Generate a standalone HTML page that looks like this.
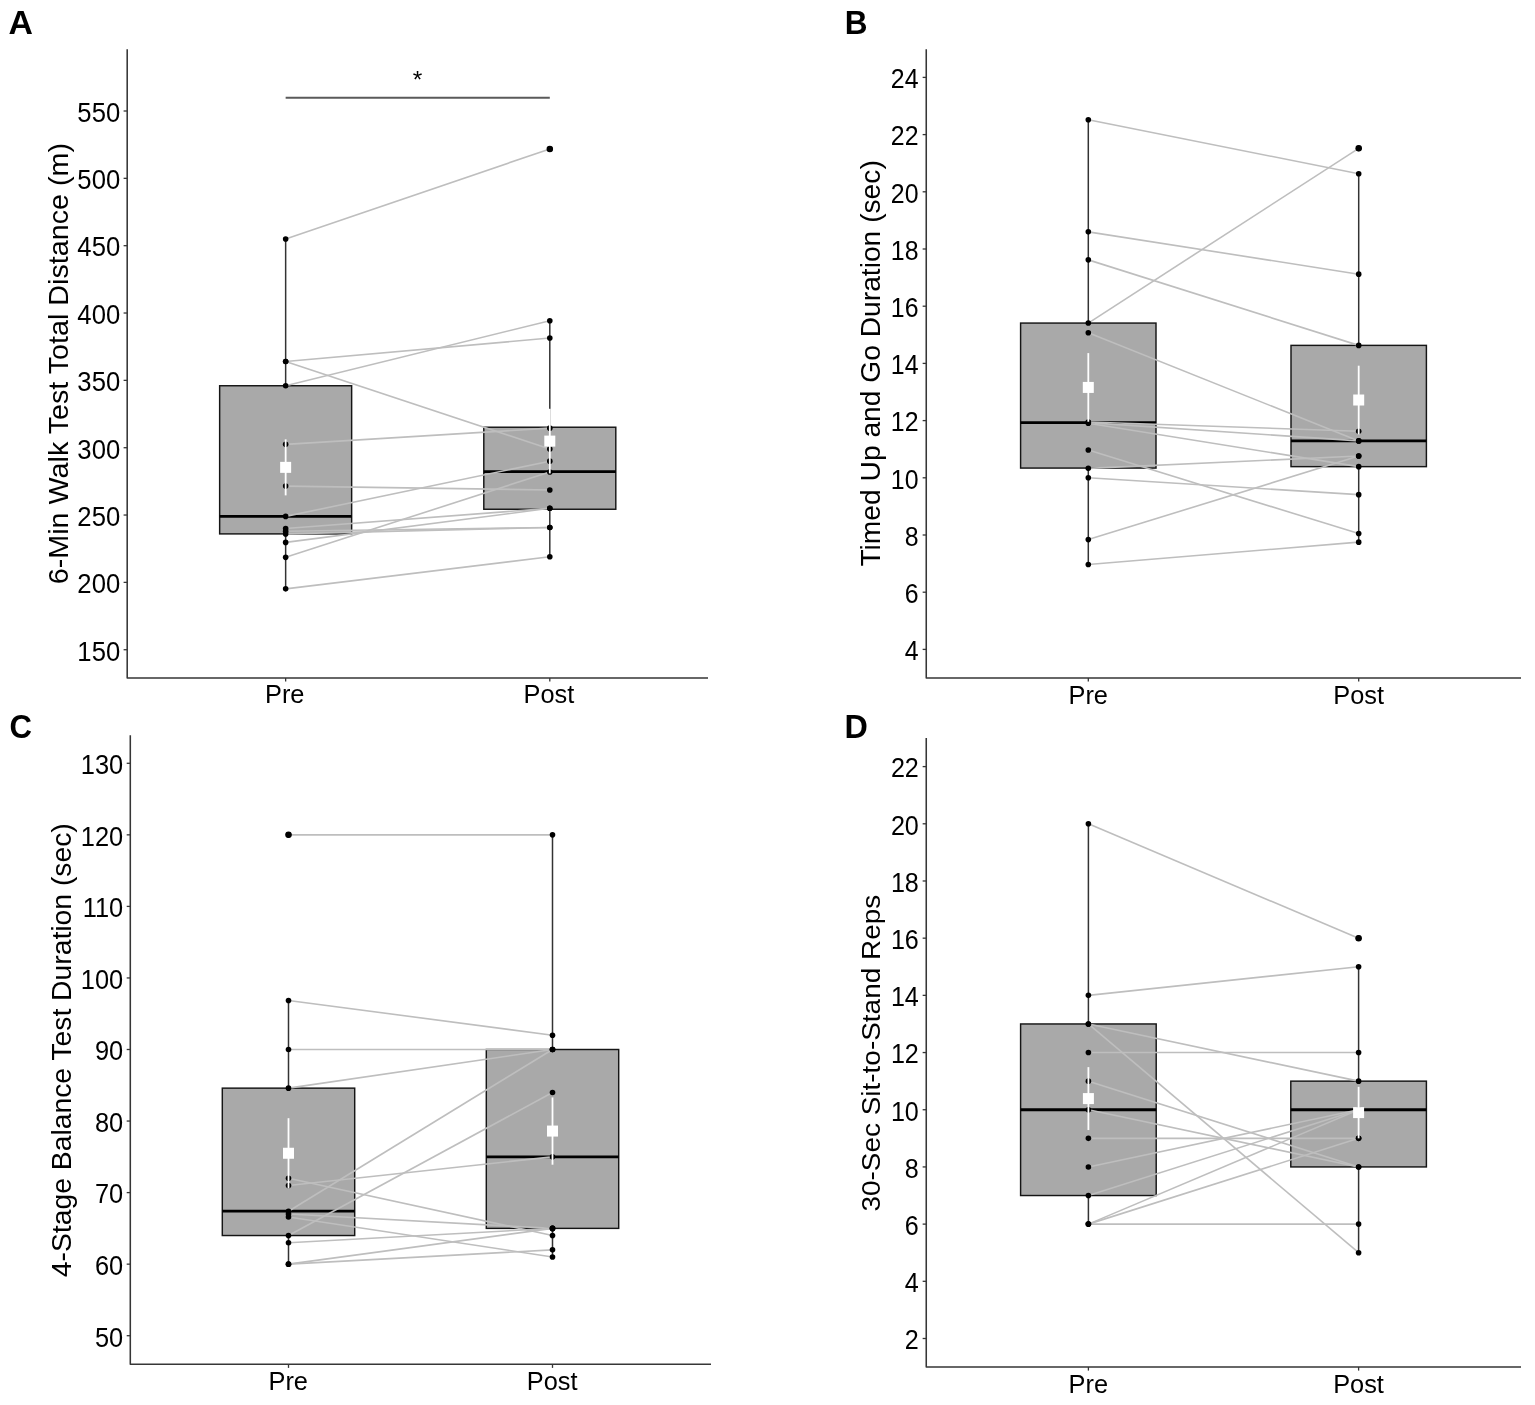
<!DOCTYPE html>
<html lang="en"><head><meta charset="utf-8"><title>Figure: Pre vs Post physical function outcomes</title>
<style>html,body{margin:0;padding:0;background:#fff;overflow:hidden}svg{display:block}text{font-family:"Liberation Sans", sans-serif;fill:#000}</style></head><body>
<svg width="1535" height="1405" viewBox="0 0 1535 1405" role="img" aria-label="Box plots of pre versus post outcomes, panels A to D">
<rect width="1535" height="1405" fill="#ffffff"/>
<g id="panel-A">
<text transform="translate(8.5 34) scale(1.01 1)" font-size="33.5" font-weight="700">A</text>
<line x1="285.65" x2="285.65" y1="238.95" y2="385.75" stroke="#333" stroke-width="1.5"/>
<line x1="285.65" x2="285.65" y1="533.9" y2="588.84" stroke="#333" stroke-width="1.5"/>
<rect x="219.65" y="385.75" width="132" height="148.15" fill="#a9a9a9" stroke="#151515" stroke-width="1.45"/>
<line x1="219.65" x2="351.65" y1="516.39" y2="516.39" stroke="#000" stroke-width="2.8"/>
<line x1="549.8" x2="549.8" y1="320.7" y2="427.23" stroke="#333" stroke-width="1.5"/>
<line x1="549.8" x2="549.8" y1="509.25" y2="556.79" stroke="#333" stroke-width="1.5"/>
<rect x="483.8" y="427.23" width="132" height="82.02" fill="#a9a9a9" stroke="#151515" stroke-width="1.45"/>
<line x1="483.8" x2="615.8" y1="471.54" y2="471.54" stroke="#000" stroke-width="2.8"/>
<line x1="285.65" y1="238.95" x2="549.8" y2="148.98" stroke="#bebebe" stroke-width="1.6"/>
<line x1="285.65" y1="361.5" x2="549.8" y2="338.07" stroke="#bebebe" stroke-width="1.6"/>
<line x1="285.65" y1="361.5" x2="549.8" y2="449.05" stroke="#bebebe" stroke-width="1.6"/>
<line x1="285.65" y1="385.75" x2="549.8" y2="320.7" stroke="#bebebe" stroke-width="1.6"/>
<line x1="285.65" y1="444.33" x2="549.8" y2="428.17" stroke="#bebebe" stroke-width="1.6"/>
<line x1="285.65" y1="486.08" x2="549.8" y2="489.99" stroke="#bebebe" stroke-width="1.6"/>
<line x1="285.65" y1="516.39" x2="549.8" y2="461.17" stroke="#bebebe" stroke-width="1.6"/>
<line x1="285.65" y1="528.51" x2="549.8" y2="508.31" stroke="#bebebe" stroke-width="1.6"/>
<line x1="285.65" y1="531.2" x2="549.8" y2="527.43" stroke="#bebebe" stroke-width="1.6"/>
<line x1="285.65" y1="533.9" x2="549.8" y2="527.43" stroke="#bebebe" stroke-width="1.6"/>
<line x1="285.65" y1="542.38" x2="549.8" y2="508.31" stroke="#bebebe" stroke-width="1.6"/>
<line x1="285.65" y1="557.33" x2="549.8" y2="471.94" stroke="#bebebe" stroke-width="1.6"/>
<line x1="285.65" y1="588.84" x2="549.8" y2="556.79" stroke="#bebebe" stroke-width="1.6"/>
<circle cx="285.65" cy="238.95" r="2.8" fill="#000"/>
<circle cx="549.8" cy="148.98" r="2.8" fill="#000"/>
<circle cx="285.65" cy="361.5" r="2.8" fill="#000"/>
<circle cx="549.8" cy="338.07" r="2.8" fill="#000"/>
<circle cx="285.65" cy="361.5" r="2.8" fill="#000"/>
<circle cx="549.8" cy="449.05" r="2.8" fill="#000"/>
<circle cx="285.65" cy="385.75" r="2.8" fill="#000"/>
<circle cx="549.8" cy="320.7" r="2.8" fill="#000"/>
<circle cx="285.65" cy="444.33" r="2.8" fill="#000"/>
<circle cx="549.8" cy="428.17" r="2.8" fill="#000"/>
<circle cx="285.65" cy="486.08" r="2.8" fill="#000"/>
<circle cx="549.8" cy="489.99" r="2.8" fill="#000"/>
<circle cx="285.65" cy="516.39" r="2.8" fill="#000"/>
<circle cx="549.8" cy="461.17" r="2.8" fill="#000"/>
<circle cx="285.65" cy="528.51" r="2.8" fill="#000"/>
<circle cx="549.8" cy="508.31" r="2.8" fill="#000"/>
<circle cx="285.65" cy="531.2" r="2.8" fill="#000"/>
<circle cx="549.8" cy="527.43" r="2.8" fill="#000"/>
<circle cx="285.65" cy="533.9" r="2.8" fill="#000"/>
<circle cx="549.8" cy="527.43" r="2.8" fill="#000"/>
<circle cx="285.65" cy="542.38" r="2.8" fill="#000"/>
<circle cx="549.8" cy="508.31" r="2.8" fill="#000"/>
<circle cx="285.65" cy="557.33" r="2.8" fill="#000"/>
<circle cx="549.8" cy="471.94" r="2.8" fill="#000"/>
<circle cx="285.65" cy="588.84" r="2.8" fill="#000"/>
<circle cx="549.8" cy="556.79" r="2.8" fill="#000"/>
<circle cx="549.8" cy="148.98" r="3.25" fill="#000"/>
<line x1="285.65" x2="285.65" y1="439.35" y2="495.38" stroke="#fff" stroke-width="1.8"/>
<rect x="280.15" y="461.86" width="11" height="11" fill="#fff"/>
<line x1="549.8" x2="549.8" y1="408.78" y2="473.42" stroke="#fff" stroke-width="1.8"/>
<rect x="544.3" y="435.6" width="11" height="11" fill="#fff"/>
<line x1="285.65" x2="549.8" y1="97.85" y2="97.85" stroke="#5a5a5a" stroke-width="2"/>
<text x="417.42" y="87.8" font-size="24.5" text-anchor="middle">*</text>
<path d="M127.2 49.3V678H708" fill="none" stroke="#363636" stroke-width="1.55" stroke-linejoin="round"/>
<line x1="123.6" x2="127.2" y1="649.72" y2="649.72" stroke="#363636" stroke-width="1.3"/>
<text transform="translate(120.2 660.52) scale(0.995 1.04)" font-size="25.8" text-anchor="end">150</text>
<line x1="123.6" x2="127.2" y1="582.38" y2="582.38" stroke="#363636" stroke-width="1.3"/>
<text transform="translate(120.2 593.18) scale(0.995 1.04)" font-size="25.8" text-anchor="end">200</text>
<line x1="123.6" x2="127.2" y1="515.04" y2="515.04" stroke="#363636" stroke-width="1.3"/>
<text transform="translate(120.2 525.84) scale(0.995 1.04)" font-size="25.8" text-anchor="end">250</text>
<line x1="123.6" x2="127.2" y1="447.7" y2="447.7" stroke="#363636" stroke-width="1.3"/>
<text transform="translate(120.2 458.5) scale(0.995 1.04)" font-size="25.8" text-anchor="end">300</text>
<line x1="123.6" x2="127.2" y1="380.36" y2="380.36" stroke="#363636" stroke-width="1.3"/>
<text transform="translate(120.2 391.16) scale(0.995 1.04)" font-size="25.8" text-anchor="end">350</text>
<line x1="123.6" x2="127.2" y1="313.02" y2="313.02" stroke="#363636" stroke-width="1.3"/>
<text transform="translate(120.2 323.82) scale(0.995 1.04)" font-size="25.8" text-anchor="end">400</text>
<line x1="123.6" x2="127.2" y1="245.68" y2="245.68" stroke="#363636" stroke-width="1.3"/>
<text transform="translate(120.2 256.48) scale(0.995 1.04)" font-size="25.8" text-anchor="end">450</text>
<line x1="123.6" x2="127.2" y1="178.34" y2="178.34" stroke="#363636" stroke-width="1.3"/>
<text transform="translate(120.2 189.14) scale(0.995 1.04)" font-size="25.8" text-anchor="end">500</text>
<line x1="123.6" x2="127.2" y1="111" y2="111" stroke="#363636" stroke-width="1.3"/>
<text transform="translate(120.2 121.8) scale(0.995 1.04)" font-size="25.8" text-anchor="end">550</text>
<line x1="285.65" x2="285.65" y1="678" y2="681.6" stroke="#363636" stroke-width="1.3"/>
<text transform="translate(284.75 703.4) scale(0.99 1.02)" font-size="25.6" text-anchor="middle">Pre</text>
<line x1="549.8" x2="549.8" y1="678" y2="681.6" stroke="#363636" stroke-width="1.3"/>
<text transform="translate(548.9 703.4) scale(0.99 1.02)" font-size="25.6" text-anchor="middle">Post</text>
<text transform="translate(68.3 363.6) rotate(-90) scale(1 0.95)" font-size="28.7" text-anchor="middle">6-Min Walk Test Total Distance (m)</text>
</g>
<g id="panel-B">
<text transform="translate(844.7 34.2) scale(0.94 1)" font-size="33.5" font-weight="700">B</text>
<line x1="1088.3" x2="1088.3" y1="119.73" y2="323.07" stroke="#333" stroke-width="1.5"/>
<line x1="1088.3" x2="1088.3" y1="468.08" y2="564.46" stroke="#333" stroke-width="1.5"/>
<rect x="1020.6" y="323.07" width="135.4" height="145" fill="#a9a9a9" stroke="#151515" stroke-width="1.45"/>
<line x1="1020.6" x2="1156" y1="422.6" y2="422.6" stroke="#000" stroke-width="2.8"/>
<line x1="1358.7" x2="1358.7" y1="173.78" y2="345.38" stroke="#333" stroke-width="1.5"/>
<line x1="1358.7" x2="1358.7" y1="466.65" y2="542.15" stroke="#333" stroke-width="1.5"/>
<rect x="1291" y="345.38" width="135.4" height="121.26" fill="#a9a9a9" stroke="#151515" stroke-width="1.45"/>
<line x1="1291" x2="1426.4" y1="440.91" y2="440.91" stroke="#000" stroke-width="2.8"/>
<line x1="1088.3" y1="119.73" x2="1358.7" y2="173.78" stroke="#bebebe" stroke-width="1.6"/>
<line x1="1088.3" y1="231.84" x2="1358.7" y2="274.17" stroke="#bebebe" stroke-width="1.6"/>
<line x1="1088.3" y1="259.87" x2="1358.7" y2="345.38" stroke="#bebebe" stroke-width="1.6"/>
<line x1="1088.3" y1="323.07" x2="1358.7" y2="148.33" stroke="#bebebe" stroke-width="1.6"/>
<line x1="1088.3" y1="332.8" x2="1358.7" y2="440.91" stroke="#bebebe" stroke-width="1.6"/>
<line x1="1088.3" y1="422.03" x2="1358.7" y2="431.18" stroke="#bebebe" stroke-width="1.6"/>
<line x1="1088.3" y1="422.6" x2="1358.7" y2="440.91" stroke="#bebebe" stroke-width="1.6"/>
<line x1="1088.3" y1="423.17" x2="1358.7" y2="466.65" stroke="#bebebe" stroke-width="1.6"/>
<line x1="1088.3" y1="450.06" x2="1358.7" y2="533.57" stroke="#bebebe" stroke-width="1.6"/>
<line x1="1088.3" y1="468.36" x2="1358.7" y2="456.06" stroke="#bebebe" stroke-width="1.6"/>
<line x1="1088.3" y1="477.8" x2="1358.7" y2="494.67" stroke="#bebebe" stroke-width="1.6"/>
<line x1="1088.3" y1="539.58" x2="1358.7" y2="456.06" stroke="#bebebe" stroke-width="1.6"/>
<line x1="1088.3" y1="564.46" x2="1358.7" y2="542.15" stroke="#bebebe" stroke-width="1.6"/>
<circle cx="1088.3" cy="119.73" r="2.8" fill="#000"/>
<circle cx="1358.7" cy="173.78" r="2.8" fill="#000"/>
<circle cx="1088.3" cy="231.84" r="2.8" fill="#000"/>
<circle cx="1358.7" cy="274.17" r="2.8" fill="#000"/>
<circle cx="1088.3" cy="259.87" r="2.8" fill="#000"/>
<circle cx="1358.7" cy="345.38" r="2.8" fill="#000"/>
<circle cx="1088.3" cy="323.07" r="2.8" fill="#000"/>
<circle cx="1358.7" cy="148.33" r="2.8" fill="#000"/>
<circle cx="1088.3" cy="332.8" r="2.8" fill="#000"/>
<circle cx="1358.7" cy="440.91" r="2.8" fill="#000"/>
<circle cx="1088.3" cy="422.03" r="2.8" fill="#000"/>
<circle cx="1358.7" cy="431.18" r="2.8" fill="#000"/>
<circle cx="1088.3" cy="422.6" r="2.8" fill="#000"/>
<circle cx="1358.7" cy="440.91" r="2.8" fill="#000"/>
<circle cx="1088.3" cy="423.17" r="2.8" fill="#000"/>
<circle cx="1358.7" cy="466.65" r="2.8" fill="#000"/>
<circle cx="1088.3" cy="450.06" r="2.8" fill="#000"/>
<circle cx="1358.7" cy="533.57" r="2.8" fill="#000"/>
<circle cx="1088.3" cy="468.36" r="2.8" fill="#000"/>
<circle cx="1358.7" cy="456.06" r="2.8" fill="#000"/>
<circle cx="1088.3" cy="477.8" r="2.8" fill="#000"/>
<circle cx="1358.7" cy="494.67" r="2.8" fill="#000"/>
<circle cx="1088.3" cy="539.58" r="2.8" fill="#000"/>
<circle cx="1358.7" cy="456.06" r="2.8" fill="#000"/>
<circle cx="1088.3" cy="564.46" r="2.8" fill="#000"/>
<circle cx="1358.7" cy="542.15" r="2.8" fill="#000"/>
<circle cx="1358.7" cy="148.33" r="3.25" fill="#000"/>
<line x1="1088.3" x2="1088.3" y1="353.1" y2="421.74" stroke="#fff" stroke-width="1.8"/>
<rect x="1082.8" y="381.92" width="11" height="11" fill="#fff"/>
<line x1="1358.7" x2="1358.7" y1="365.69" y2="434.33" stroke="#fff" stroke-width="1.8"/>
<rect x="1353.2" y="394.51" width="11" height="11" fill="#fff"/>
<path d="M926.25 49.3V678H1521" fill="none" stroke="#363636" stroke-width="1.55" stroke-linejoin="round"/>
<line x1="922.65" x2="926.25" y1="649.4" y2="649.4" stroke="#363636" stroke-width="1.3"/>
<text transform="translate(918.55 660.2) scale(0.965 1.04)" font-size="25.8" text-anchor="end">4</text>
<line x1="922.65" x2="926.25" y1="592.2" y2="592.2" stroke="#363636" stroke-width="1.3"/>
<text transform="translate(918.55 603) scale(0.965 1.04)" font-size="25.8" text-anchor="end">6</text>
<line x1="922.65" x2="926.25" y1="535" y2="535" stroke="#363636" stroke-width="1.3"/>
<text transform="translate(918.55 545.8) scale(0.965 1.04)" font-size="25.8" text-anchor="end">8</text>
<line x1="922.65" x2="926.25" y1="477.8" y2="477.8" stroke="#363636" stroke-width="1.3"/>
<text transform="translate(918.55 488.6) scale(0.965 1.04)" font-size="25.8" text-anchor="end">10</text>
<line x1="922.65" x2="926.25" y1="420.6" y2="420.6" stroke="#363636" stroke-width="1.3"/>
<text transform="translate(918.55 431.4) scale(0.965 1.04)" font-size="25.8" text-anchor="end">12</text>
<line x1="922.65" x2="926.25" y1="363.4" y2="363.4" stroke="#363636" stroke-width="1.3"/>
<text transform="translate(918.55 374.2) scale(0.965 1.04)" font-size="25.8" text-anchor="end">14</text>
<line x1="922.65" x2="926.25" y1="306.2" y2="306.2" stroke="#363636" stroke-width="1.3"/>
<text transform="translate(918.55 317) scale(0.965 1.04)" font-size="25.8" text-anchor="end">16</text>
<line x1="922.65" x2="926.25" y1="249" y2="249" stroke="#363636" stroke-width="1.3"/>
<text transform="translate(918.55 259.8) scale(0.965 1.04)" font-size="25.8" text-anchor="end">18</text>
<line x1="922.65" x2="926.25" y1="191.8" y2="191.8" stroke="#363636" stroke-width="1.3"/>
<text transform="translate(918.55 202.6) scale(0.965 1.04)" font-size="25.8" text-anchor="end">20</text>
<line x1="922.65" x2="926.25" y1="134.6" y2="134.6" stroke="#363636" stroke-width="1.3"/>
<text transform="translate(918.55 145.4) scale(0.965 1.04)" font-size="25.8" text-anchor="end">22</text>
<line x1="922.65" x2="926.25" y1="77.4" y2="77.4" stroke="#363636" stroke-width="1.3"/>
<text transform="translate(918.55 88.2) scale(0.965 1.04)" font-size="25.8" text-anchor="end">24</text>
<line x1="1088.3" x2="1088.3" y1="678" y2="681.6" stroke="#363636" stroke-width="1.3"/>
<text transform="translate(1088.2 704.1) scale(0.99 1.02)" font-size="25.6" text-anchor="middle">Pre</text>
<line x1="1358.7" x2="1358.7" y1="678" y2="681.6" stroke="#363636" stroke-width="1.3"/>
<text transform="translate(1358.6 704.1) scale(0.99 1.02)" font-size="25.6" text-anchor="middle">Post</text>
<text transform="translate(879.9 363.4) rotate(-90) scale(1 0.95)" font-size="28.2" text-anchor="middle">Timed Up and Go Duration (sec)</text>
</g>
<g id="panel-C">
<text transform="translate(9.5 738) scale(0.93 1)" font-size="33.5" font-weight="700">C</text>
<line x1="288.5" x2="288.5" y1="1000.49" y2="1088.14" stroke="#333" stroke-width="1.5"/>
<line x1="288.5" x2="288.5" y1="1235.53" y2="1264.15" stroke="#333" stroke-width="1.5"/>
<rect x="222.3" y="1088.14" width="132.4" height="147.39" fill="#a9a9a9" stroke="#151515" stroke-width="1.45"/>
<line x1="222.3" x2="354.7" y1="1211.2" y2="1211.2" stroke="#000" stroke-width="2.8"/>
<line x1="552.5" x2="552.5" y1="834.85" y2="1049.5" stroke="#333" stroke-width="1.5"/>
<line x1="552.5" x2="552.5" y1="1228.38" y2="1256.99" stroke="#333" stroke-width="1.5"/>
<rect x="486.3" y="1049.5" width="132.4" height="178.88" fill="#a9a9a9" stroke="#151515" stroke-width="1.45"/>
<line x1="486.3" x2="618.7" y1="1156.83" y2="1156.83" stroke="#000" stroke-width="2.8"/>
<line x1="288.5" y1="834.85" x2="552.5" y2="834.85" stroke="#bebebe" stroke-width="1.6"/>
<line x1="288.5" y1="1000.49" x2="552.5" y2="1035.19" stroke="#bebebe" stroke-width="1.6"/>
<line x1="288.5" y1="1049.5" x2="552.5" y2="1049.5" stroke="#bebebe" stroke-width="1.6"/>
<line x1="288.5" y1="1088.14" x2="552.5" y2="1049.5" stroke="#bebebe" stroke-width="1.6"/>
<line x1="288.5" y1="1178.29" x2="552.5" y2="1235.53" stroke="#bebebe" stroke-width="1.6"/>
<line x1="288.5" y1="1185.44" x2="552.5" y2="1156.83" stroke="#bebebe" stroke-width="1.6"/>
<line x1="288.5" y1="1211.2" x2="552.5" y2="1049.5" stroke="#bebebe" stroke-width="1.6"/>
<line x1="288.5" y1="1214.07" x2="552.5" y2="1228.38" stroke="#bebebe" stroke-width="1.6"/>
<line x1="288.5" y1="1216.93" x2="552.5" y2="1256.99" stroke="#bebebe" stroke-width="1.6"/>
<line x1="288.5" y1="1235.53" x2="552.5" y2="1092.43" stroke="#bebebe" stroke-width="1.6"/>
<line x1="288.5" y1="1242.68" x2="552.5" y2="1228.38" stroke="#bebebe" stroke-width="1.6"/>
<line x1="288.5" y1="1264.15" x2="552.5" y2="1228.38" stroke="#bebebe" stroke-width="1.6"/>
<line x1="288.5" y1="1264.15" x2="552.5" y2="1249.84" stroke="#bebebe" stroke-width="1.6"/>
<circle cx="288.5" cy="834.85" r="2.8" fill="#000"/>
<circle cx="552.5" cy="834.85" r="2.8" fill="#000"/>
<circle cx="288.5" cy="1000.49" r="2.8" fill="#000"/>
<circle cx="552.5" cy="1035.19" r="2.8" fill="#000"/>
<circle cx="288.5" cy="1049.5" r="2.8" fill="#000"/>
<circle cx="552.5" cy="1049.5" r="2.8" fill="#000"/>
<circle cx="288.5" cy="1088.14" r="2.8" fill="#000"/>
<circle cx="552.5" cy="1049.5" r="2.8" fill="#000"/>
<circle cx="288.5" cy="1178.29" r="2.8" fill="#000"/>
<circle cx="552.5" cy="1235.53" r="2.8" fill="#000"/>
<circle cx="288.5" cy="1185.44" r="2.8" fill="#000"/>
<circle cx="552.5" cy="1156.83" r="2.8" fill="#000"/>
<circle cx="288.5" cy="1211.2" r="2.8" fill="#000"/>
<circle cx="552.5" cy="1049.5" r="2.8" fill="#000"/>
<circle cx="288.5" cy="1214.07" r="2.8" fill="#000"/>
<circle cx="552.5" cy="1228.38" r="2.8" fill="#000"/>
<circle cx="288.5" cy="1216.93" r="2.8" fill="#000"/>
<circle cx="552.5" cy="1256.99" r="2.8" fill="#000"/>
<circle cx="288.5" cy="1235.53" r="2.8" fill="#000"/>
<circle cx="552.5" cy="1092.43" r="2.8" fill="#000"/>
<circle cx="288.5" cy="1242.68" r="2.8" fill="#000"/>
<circle cx="552.5" cy="1228.38" r="2.8" fill="#000"/>
<circle cx="288.5" cy="1264.15" r="2.8" fill="#000"/>
<circle cx="552.5" cy="1228.38" r="2.8" fill="#000"/>
<circle cx="288.5" cy="1264.15" r="2.8" fill="#000"/>
<circle cx="552.5" cy="1249.84" r="2.8" fill="#000"/>
<circle cx="288.5" cy="834.85" r="3.25" fill="#000"/>
<line x1="288.5" x2="288.5" y1="1118.19" y2="1188.31" stroke="#fff" stroke-width="1.8"/>
<rect x="283" y="1147.75" width="11" height="11" fill="#fff"/>
<line x1="552.5" x2="552.5" y1="1097.44" y2="1164.7" stroke="#fff" stroke-width="1.8"/>
<rect x="547" y="1125.57" width="11" height="11" fill="#fff"/>
<path d="M130.3 735.2V1364.3H711" fill="none" stroke="#363636" stroke-width="1.55" stroke-linejoin="round"/>
<line x1="126.7" x2="130.3" y1="1335.7" y2="1335.7" stroke="#363636" stroke-width="1.3"/>
<text transform="translate(123.2 1346.5) scale(0.985 1.04)" font-size="25.8" text-anchor="end">50</text>
<line x1="126.7" x2="130.3" y1="1264.15" y2="1264.15" stroke="#363636" stroke-width="1.3"/>
<text transform="translate(123.2 1274.95) scale(0.985 1.04)" font-size="25.8" text-anchor="end">60</text>
<line x1="126.7" x2="130.3" y1="1192.6" y2="1192.6" stroke="#363636" stroke-width="1.3"/>
<text transform="translate(123.2 1203.4) scale(0.985 1.04)" font-size="25.8" text-anchor="end">70</text>
<line x1="126.7" x2="130.3" y1="1121.05" y2="1121.05" stroke="#363636" stroke-width="1.3"/>
<text transform="translate(123.2 1131.85) scale(0.985 1.04)" font-size="25.8" text-anchor="end">80</text>
<line x1="126.7" x2="130.3" y1="1049.5" y2="1049.5" stroke="#363636" stroke-width="1.3"/>
<text transform="translate(123.2 1060.3) scale(0.985 1.04)" font-size="25.8" text-anchor="end">90</text>
<line x1="126.7" x2="130.3" y1="977.95" y2="977.95" stroke="#363636" stroke-width="1.3"/>
<text transform="translate(123.2 988.75) scale(0.985 1.04)" font-size="25.8" text-anchor="end">100</text>
<line x1="126.7" x2="130.3" y1="906.4" y2="906.4" stroke="#363636" stroke-width="1.3"/>
<text transform="translate(123.2 917.2) scale(0.985 1.04)" font-size="25.8" text-anchor="end">110</text>
<line x1="126.7" x2="130.3" y1="834.85" y2="834.85" stroke="#363636" stroke-width="1.3"/>
<text transform="translate(123.2 845.65) scale(0.985 1.04)" font-size="25.8" text-anchor="end">120</text>
<line x1="126.7" x2="130.3" y1="763.3" y2="763.3" stroke="#363636" stroke-width="1.3"/>
<text transform="translate(123.2 774.1) scale(0.985 1.04)" font-size="25.8" text-anchor="end">130</text>
<line x1="288.5" x2="288.5" y1="1364.3" y2="1367.9" stroke="#363636" stroke-width="1.3"/>
<text transform="translate(288.2 1389.9) scale(0.99 1.02)" font-size="25.6" text-anchor="middle">Pre</text>
<line x1="552.5" x2="552.5" y1="1364.3" y2="1367.9" stroke="#363636" stroke-width="1.3"/>
<text transform="translate(552.2 1389.9) scale(0.99 1.02)" font-size="25.6" text-anchor="middle">Post</text>
<text transform="translate(70.7 1050.2) rotate(-90) scale(1 0.95)" font-size="28.3" text-anchor="middle">4-Stage Balance Test Duration (sec)</text>
</g>
<g id="panel-D">
<text transform="translate(844.6 737.9) scale(0.965 1)" font-size="33.5" font-weight="700">D</text>
<line x1="1088.4" x2="1088.4" y1="823.79" y2="1023.96" stroke="#333" stroke-width="1.5"/>
<line x1="1088.4" x2="1088.4" y1="1195.53" y2="1224.12" stroke="#333" stroke-width="1.5"/>
<rect x="1020.6" y="1023.96" width="135.6" height="171.57" fill="#a9a9a9" stroke="#151515" stroke-width="1.45"/>
<line x1="1020.6" x2="1156.2" y1="1109.74" y2="1109.74" stroke="#000" stroke-width="2.8"/>
<line x1="1358.6" x2="1358.6" y1="966.76" y2="1081.14" stroke="#333" stroke-width="1.5"/>
<line x1="1358.6" x2="1358.6" y1="1166.93" y2="1252.72" stroke="#333" stroke-width="1.5"/>
<rect x="1290.8" y="1081.14" width="135.6" height="85.79" fill="#a9a9a9" stroke="#151515" stroke-width="1.45"/>
<line x1="1290.8" x2="1426.4" y1="1109.74" y2="1109.74" stroke="#000" stroke-width="2.8"/>
<line x1="1088.4" y1="823.79" x2="1358.6" y2="938.17" stroke="#bebebe" stroke-width="1.6"/>
<line x1="1088.4" y1="995.36" x2="1358.6" y2="966.76" stroke="#bebebe" stroke-width="1.6"/>
<line x1="1088.4" y1="1023.96" x2="1358.6" y2="1081.14" stroke="#bebebe" stroke-width="1.6"/>
<line x1="1088.4" y1="1023.96" x2="1358.6" y2="1252.72" stroke="#bebebe" stroke-width="1.6"/>
<line x1="1088.4" y1="1052.55" x2="1358.6" y2="1052.55" stroke="#bebebe" stroke-width="1.6"/>
<line x1="1088.4" y1="1081.14" x2="1358.6" y2="1166.93" stroke="#bebebe" stroke-width="1.6"/>
<line x1="1088.4" y1="1109.74" x2="1358.6" y2="1166.93" stroke="#bebebe" stroke-width="1.6"/>
<line x1="1088.4" y1="1138.34" x2="1358.6" y2="1138.34" stroke="#bebebe" stroke-width="1.6"/>
<line x1="1088.4" y1="1166.93" x2="1358.6" y2="1109.74" stroke="#bebebe" stroke-width="1.6"/>
<line x1="1088.4" y1="1195.53" x2="1358.6" y2="1109.74" stroke="#bebebe" stroke-width="1.6"/>
<line x1="1088.4" y1="1224.12" x2="1358.6" y2="1109.74" stroke="#bebebe" stroke-width="1.6"/>
<line x1="1088.4" y1="1224.12" x2="1358.6" y2="1138.34" stroke="#bebebe" stroke-width="1.6"/>
<line x1="1088.4" y1="1224.12" x2="1358.6" y2="1224.12" stroke="#bebebe" stroke-width="1.6"/>
<circle cx="1088.4" cy="823.79" r="2.8" fill="#000"/>
<circle cx="1358.6" cy="938.17" r="2.8" fill="#000"/>
<circle cx="1088.4" cy="995.36" r="2.8" fill="#000"/>
<circle cx="1358.6" cy="966.76" r="2.8" fill="#000"/>
<circle cx="1088.4" cy="1023.96" r="2.8" fill="#000"/>
<circle cx="1358.6" cy="1081.14" r="2.8" fill="#000"/>
<circle cx="1088.4" cy="1023.96" r="2.8" fill="#000"/>
<circle cx="1358.6" cy="1252.72" r="2.8" fill="#000"/>
<circle cx="1088.4" cy="1052.55" r="2.8" fill="#000"/>
<circle cx="1358.6" cy="1052.55" r="2.8" fill="#000"/>
<circle cx="1088.4" cy="1081.14" r="2.8" fill="#000"/>
<circle cx="1358.6" cy="1166.93" r="2.8" fill="#000"/>
<circle cx="1088.4" cy="1109.74" r="2.8" fill="#000"/>
<circle cx="1358.6" cy="1166.93" r="2.8" fill="#000"/>
<circle cx="1088.4" cy="1138.34" r="2.8" fill="#000"/>
<circle cx="1358.6" cy="1138.34" r="2.8" fill="#000"/>
<circle cx="1088.4" cy="1166.93" r="2.8" fill="#000"/>
<circle cx="1358.6" cy="1109.74" r="2.8" fill="#000"/>
<circle cx="1088.4" cy="1195.53" r="2.8" fill="#000"/>
<circle cx="1358.6" cy="1109.74" r="2.8" fill="#000"/>
<circle cx="1088.4" cy="1224.12" r="2.8" fill="#000"/>
<circle cx="1358.6" cy="1109.74" r="2.8" fill="#000"/>
<circle cx="1088.4" cy="1224.12" r="2.8" fill="#000"/>
<circle cx="1358.6" cy="1138.34" r="2.8" fill="#000"/>
<circle cx="1088.4" cy="1224.12" r="2.8" fill="#000"/>
<circle cx="1358.6" cy="1224.12" r="2.8" fill="#000"/>
<circle cx="1358.6" cy="938.17" r="3.25" fill="#000"/>
<line x1="1088.4" x2="1088.4" y1="1067.13" y2="1130.04" stroke="#fff" stroke-width="1.8"/>
<rect x="1082.9" y="1093.09" width="11" height="11" fill="#fff"/>
<line x1="1358.6" x2="1358.6" y1="1086.86" y2="1138.34" stroke="#fff" stroke-width="1.8"/>
<rect x="1353.1" y="1107.1" width="11" height="11" fill="#fff"/>
<path d="M926.25 738V1367H1521" fill="none" stroke="#363636" stroke-width="1.55" stroke-linejoin="round"/>
<line x1="922.65" x2="926.25" y1="1338.5" y2="1338.5" stroke="#363636" stroke-width="1.3"/>
<text transform="translate(918.85 1349.3) scale(0.975 1.04)" font-size="25.8" text-anchor="end">2</text>
<line x1="922.65" x2="926.25" y1="1281.31" y2="1281.31" stroke="#363636" stroke-width="1.3"/>
<text transform="translate(918.85 1292.11) scale(0.975 1.04)" font-size="25.8" text-anchor="end">4</text>
<line x1="922.65" x2="926.25" y1="1224.12" y2="1224.12" stroke="#363636" stroke-width="1.3"/>
<text transform="translate(918.85 1234.92) scale(0.975 1.04)" font-size="25.8" text-anchor="end">6</text>
<line x1="922.65" x2="926.25" y1="1166.93" y2="1166.93" stroke="#363636" stroke-width="1.3"/>
<text transform="translate(918.85 1177.73) scale(0.975 1.04)" font-size="25.8" text-anchor="end">8</text>
<line x1="922.65" x2="926.25" y1="1109.74" y2="1109.74" stroke="#363636" stroke-width="1.3"/>
<text transform="translate(918.85 1120.54) scale(0.975 1.04)" font-size="25.8" text-anchor="end">10</text>
<line x1="922.65" x2="926.25" y1="1052.55" y2="1052.55" stroke="#363636" stroke-width="1.3"/>
<text transform="translate(918.85 1063.35) scale(0.975 1.04)" font-size="25.8" text-anchor="end">12</text>
<line x1="922.65" x2="926.25" y1="995.36" y2="995.36" stroke="#363636" stroke-width="1.3"/>
<text transform="translate(918.85 1006.16) scale(0.975 1.04)" font-size="25.8" text-anchor="end">14</text>
<line x1="922.65" x2="926.25" y1="938.17" y2="938.17" stroke="#363636" stroke-width="1.3"/>
<text transform="translate(918.85 948.97) scale(0.975 1.04)" font-size="25.8" text-anchor="end">16</text>
<line x1="922.65" x2="926.25" y1="880.98" y2="880.98" stroke="#363636" stroke-width="1.3"/>
<text transform="translate(918.85 891.78) scale(0.975 1.04)" font-size="25.8" text-anchor="end">18</text>
<line x1="922.65" x2="926.25" y1="823.79" y2="823.79" stroke="#363636" stroke-width="1.3"/>
<text transform="translate(918.85 834.59) scale(0.975 1.04)" font-size="25.8" text-anchor="end">20</text>
<line x1="922.65" x2="926.25" y1="766.6" y2="766.6" stroke="#363636" stroke-width="1.3"/>
<text transform="translate(918.85 777.4) scale(0.975 1.04)" font-size="25.8" text-anchor="end">22</text>
<line x1="1088.4" x2="1088.4" y1="1367" y2="1370.6" stroke="#363636" stroke-width="1.3"/>
<text transform="translate(1088.3 1393.1) scale(0.99 1.02)" font-size="25.6" text-anchor="middle">Pre</text>
<line x1="1358.6" x2="1358.6" y1="1367" y2="1370.6" stroke="#363636" stroke-width="1.3"/>
<text transform="translate(1358.5 1393.1) scale(0.99 1.02)" font-size="25.6" text-anchor="middle">Post</text>
<text transform="translate(879.6 1053.2) rotate(-90) scale(1 0.95)" font-size="27.95" text-anchor="middle">30-Sec Sit-to-Stand Reps</text>
</g>
</svg></body></html>
